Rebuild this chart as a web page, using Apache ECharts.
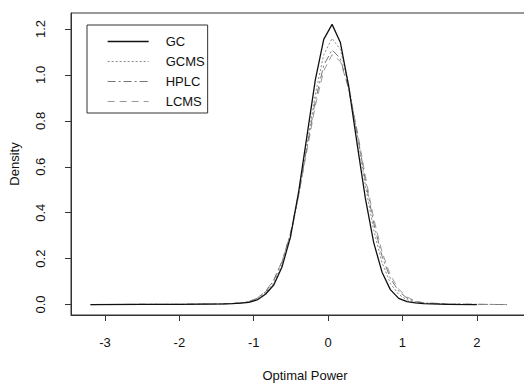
<!DOCTYPE html>
<html><head><meta charset="utf-8">
<script src="https://cdn.jsdelivr.net/npm/echarts@6/dist/echarts.min.js"></script>
<style>html,body{margin:0;padding:0;background:#fff;overflow:hidden;}#c{width:524px;height:383px;}</style>
</head><body><div id="c"></div>
<script>
var xs = [-3.194, -2.5, -2.0, -1.7, -1.402, -1.290, -1.178, -1.066, -0.954, -0.842, -0.730, -0.618, -0.506, -0.394, -0.282, -0.170, -0.058, 0.054, 0.166, 0.278, 0.390, 0.502, 0.614, 0.726, 0.838, 0.950, 1.062, 1.174, 1.286, 1.6, 2.0, 2.406];
var gc   = [0.000, 0.001, 0.001, 0.002, 0.003, 0.004, 0.006, 0.010, 0.020, 0.045, 0.085, 0.165, 0.294, 0.494, 0.738, 0.981, 1.155, 1.220, 1.141, 0.949, 0.702, 0.462, 0.270, 0.141, 0.065, 0.027, 0.013, 0.007, 0.004, 0.001, 0.000, null];
var gcms = [0.000, 0.001, 0.001, 0.002, 0.003, 0.004, 0.006, 0.012, 0.025, 0.050, 0.095, 0.175, 0.293, 0.476, 0.698, 0.918, 1.088, 1.159, 1.111, 0.958, 0.743, 0.518, 0.325, 0.183, 0.093, 0.044, 0.021, 0.010, 0.005, 0.002, 0.001, 0.000];
var hplc = [0.000, 0.001, 0.001, 0.002, 0.003, 0.005, 0.007, 0.013, 0.027, 0.055, 0.105, 0.188, 0.309, 0.484, 0.688, 0.889, 1.042, 1.109, 1.071, 0.939, 0.748, 0.540, 0.354, 0.211, 0.114, 0.058, 0.028, 0.013, 0.007, 0.003, 0.001, 0.000];
var lcms = [0.000, 0.001, 0.001, 0.002, 0.003, 0.005, 0.007, 0.013, 0.028, 0.057, 0.108, 0.190, 0.307, 0.477, 0.674, 0.868, 1.018, 1.088, 1.059, 0.940, 0.760, 0.559, 0.375, 0.229, 0.128, 0.067, 0.033, 0.015, 0.008, 0.003, 0.001, 0.000];
var names = ['GC', 'GCMS', 'HPLC', 'LCMS'];
var xTicks = [-3, -2, -1, 0, 1, 2];
var yTicks = [0, 0.2, 0.4, 0.6, 0.8, 1.0, 1.2];

function pairs(v){ var o=[]; for(var i=0;i<xs.length;i++){ o.push([xs[i], v[i]]); } return o; }
var FONT = '"Liberation Sans", Arial, sans-serif';
var styles = [
  {color:'#111', width:1.3, type:'solid'},
  {color:'#888', width:1, type:[2,2]},
  {color:'#777', width:1, type:[8,3,2,3]},
  {color:'#999', width:1, type:[7,5]}
];
var series = [gc, gcms, hplc, lcms].map(function(v, i){
  return {name:names[i], type:'line', data:pairs(v), symbol:'none', smooth:false,
    lineStyle:{color:styles[i].color, width:styles[i].width, type:styles[i].type},
    itemStyle:{color:styles[i].color}, animation:false, z: 10 - i};
});
var legendData = names.map(function(n, i){
  return {name:n, lineStyle:{width:styles[i].width, color:styles[i].color, type:styles[i].type}};
});
var chart = echarts.init(document.getElementById('c'), null, {renderer:'svg'});
chart.setOption({
  backgroundColor:'#fff',
  animation:false,
  grid:{left:71, width:468, top:13, height:302, show:true, borderColor:'#333', borderWidth:1,
    containLabel:false, outerBoundsMode:'none'},
  xAxis:{type:'value', min:-3.457, max:2.837,
    name:'Optimal Power', nameLocation:'middle', nameGap:54,
    nameTextStyle:{fontFamily:FONT, fontSize:13, color:'#111'},
    axisLine:{show:true, onZero:false, lineStyle:{color:'#333'}},
    axisTick:{show:true, length:6, inside:false, customValues:xTicks, lineStyle:{color:'#333'}},
    axisLabel:{customValues:xTicks, margin:21, fontFamily:FONT, fontSize:13, color:'#111'},
    splitLine:{show:false}},
  yAxis:{type:'value', min:-0.0454, max:1.2696,
    name:'Density', nameLocation:'middle', nameGap:50, nameRotate:90,
    nameTextStyle:{fontFamily:FONT, fontSize:13, color:'#111'},
    axisLine:{show:true, onZero:false, lineStyle:{color:'#333'}},
    axisTick:{show:true, length:6, customValues:yTicks, lineStyle:{color:'#333'}},
    axisLabel:{customValues:yTicks, rotate:90, margin:24, fontFamily:FONT, fontSize:13, color:'#111',
      formatter:function(v){ return v.toFixed(1); }},
    splitLine:{show:false}},
  legend:{show:true, orient:'vertical', left:87, top:25, data:legendData,
    borderColor:'#333', borderWidth:1, borderRadius:0,
    padding:[10, 3, 5, 20], itemWidth:41, itemHeight:14, itemGap:7,
    itemStyle:{opacity:0},
    textStyle:{fontFamily:FONT, fontSize:13, color:'#111', padding:[0,0,0,12]}},
  series:series
});
</script></body></html>
